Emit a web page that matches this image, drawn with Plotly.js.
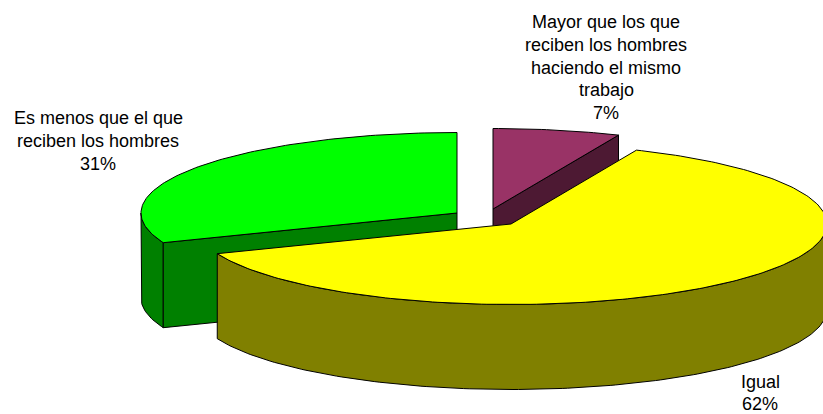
<!DOCTYPE html>
<html>
<head>
<meta charset="utf-8">
<script src="https://cdn.plot.ly/plotly-3.0.1.min.js"></script>
<style>html,body{margin:0;padding:0;background:#fff}#chart{width:823px;height:414px}</style>
</head>
<body>
<div id="chart"></div>
<script>
const categories = ["Mayor que los que reciben los hombres haciendo el mismo trabajo", "Igual", "Es menos que el que reciben los hombres"];
const values = [6.5, 62.49, 31.01];
const percentLabels = ["7%", "62%", "31%"];
const labelLines = [
  ["Mayor que los que", "reciben los hombres", "haciendo el mismo", "trabajo"],
  ["Igual"],
  ["Es menos que el que", "reciben los hombres"]
];
const topColors = ["#993366", "#ffff00", "#00ff00"];
const sideColors = ["#4d1933", "#808000", "#008000"];

// exploded-pie projection
const apexes = [[493, 209], [511, 224], [457, 213]];
const labelCenters = [[606, 22], [760, 381.5], [98, 118]];
const RX = 316, RY = 80.5, DEPTH = 85, LINE_GAP = 22.75;
const drawOrder = [2, 0, 1];

const total = values.reduce((a, b) => a + b, 0);
let acc = 0;
const spans = values.map(v => { const s = acc; acc += v; return [s / total * 360, acc / total * 360]; });
const rad = d => d * Math.PI / 180;
const rim = (i, deg, dz) => [apexes[i][0] + RX * Math.sin(rad(deg)), apexes[i][1] - RY * Math.cos(rad(deg)) + dz];
function arc(i, a, b, dz) {
  const pts = [], n = Math.max(2, Math.ceil(Math.abs(b - a)));
  for (let k = 0; k <= n; k++) pts.push(rim(i, a + (b - a) * k / n, dz));
  return pts;
}
function poly(points, fill) {
  const closed = points.concat([points[0]]);
  return { type: "scatter", mode: "lines", x: closed.map(p => p[0]), y: closed.map(p => p[1]),
    fill: "toself", fillcolor: fill, line: { color: "#000", width: 1 }, hoverinfo: "skip", showlegend: false };
}
const traces = [];
drawOrder.forEach(i => {
  const [a, b] = spans[i];
  const c = apexes[i];
  const f = Math.max(a, 90), t = Math.min(b, 270);
  if (t > f) traces.push(poly(arc(i, f, t, 0).concat(arc(i, t, f, DEPTH)), sideColors[i]));
  if (a > 180 && a < 360) {
    const p = rim(i, a, 0);
    traces.push(poly([c, p, [p[0], p[1] + DEPTH], [c[0], c[1] + DEPTH]], sideColors[i]));
  }
  if (b > 0 && b < 180) {
    const p = rim(i, b, 0);
    traces.push(poly([c, p, [p[0], p[1] + DEPTH], [c[0], c[1] + DEPTH]], sideColors[i]));
  }
  traces.push(poly([c].concat(arc(i, a, b, 0)), topColors[i]));
});

const annotations = [];
labelLines.forEach((lines, i) => {
  lines.concat([percentLabels[i]]).forEach((txt, k) => {
    annotations.push({ x: labelCenters[i][0], y: labelCenters[i][1] + k * LINE_GAP, xref: "x", yref: "y",
      text: txt, showarrow: false, xanchor: "center", yanchor: "middle",
      font: { family: "Liberation Sans, Arial, sans-serif", size: 18, color: "#000" } });
  });
});

Plotly.newPlot("chart", traces, {
  width: 823, height: 414,
  margin: { l: 0, r: 0, t: 0, b: 0 },
  paper_bgcolor: "#fff", plot_bgcolor: "#fff",
  showlegend: false,
  xaxis: { range: [0, 823], visible: false, fixedrange: true },
  yaxis: { range: [414, 0], visible: false, fixedrange: true },
  annotations: annotations
}, { displayModeBar: false, staticPlot: true });
</script>
</body>
</html>
